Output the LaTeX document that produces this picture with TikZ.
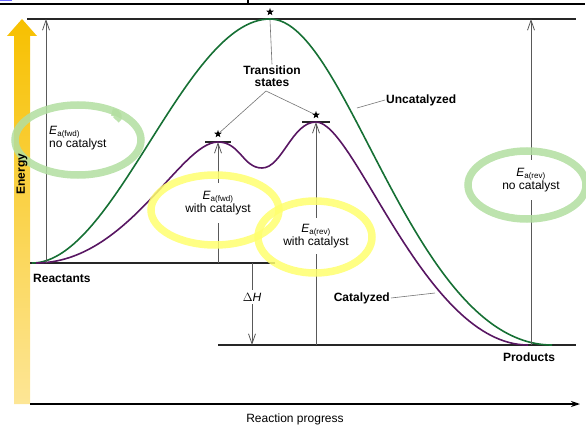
\documentclass[tikz,border=0pt]{standalone}
\usepackage{fontspec}
\setmainfont{Liberation Sans}
\usetikzlibrary{arrows.meta,shapes.geometric}
\definecolor{uncat}{RGB}{22,112,52}
\definecolor{cat}{RGB}{88,22,98}
\definecolor{hlgreen}{RGB}{178,222,160}
\definecolor{hlyellow}{RGB}{255,255,110}
\definecolor{energytop}{RGB}{247,192,0}
\definecolor{energybot}{RGB}{253,230,150}
\tikzset{
  lbl/.style={font=\fontsize{12}{13}\selectfont\bfseries, inner sep=1pt},
  ealbl/.style={font=\fontsize{12}{11.5}\selectfont, align=center, inner xsep=1pt},
  level/.style={draw=black!85, line width=1.1pt},
  ea/.style={draw=black!65, line width=0.8pt, -{Straight Barb[length=10pt,width=7pt]}},
  leader/.style={draw=black!55, line width=0.6pt},
  ts/.style={star, star points=5, star point ratio=2.4, fill=black, inner sep=0pt, minimum size=8pt},
  hilite/.style={line width=7.5pt, opacity=0.85},
}
\newcommand{\Ea}[1]{\textit{E}\textsubscript{a(#1)}}
\begin{document}
\begin{tikzpicture}[x=1pt,y=-1pt]
\useasboundingbox (0,0) rectangle (586,425);
% frame of the screenshot
\fill[blue!60] (0,0) rectangle (12,1.5);
\draw[line width=1.2pt] (0,4) -- (585,4);
\draw[line width=1.2pt] (248,0) -- (248,4);

% energy axis
\shade[top color=energytop, bottom color=energybot]
  (14,404) -- (14,36) -- (7,36) -- (22,19) -- (37,36) -- (30,36) -- (30,404) -- cycle;
\coordinate (axis0) at (30,404);
\coordinate (axis1) at (580,404);
\draw[line width=1.4pt, -{Stealth[length=9pt,width=6pt]}] (axis0) -- (axis1);
\node[font=\fontsize{12}{13}\selectfont] (progress) at (295,419) {Reaction progress};

% levels
\coordinate (topL) at (27,19);
\coordinate (topR) at (576,19);
\coordinate (reactL) at (30,263);
\coordinate (reactR) at (275,263);
\coordinate (prodL) at (218,345);
\coordinate (prodR) at (576,345);
\draw[level] (topL) -- (topR);
\draw[level] (reactL) -- (reactR);
\draw[level] (prodL) -- (prodR);
\coordinate (peakU) at (270,19);
\coordinate (peak1) at (218,142);
\coordinate (peak2) at (316,122);
\draw[level] (205,142) -- (231,142);
\draw[level] (302,122) -- (330,122);

% curves
\draw[uncat, line width=1.6pt] (32,263) .. controls (115,263) and (185,19) .. (peakU)
  .. controls (348,19) and (412,345) .. (552,345);
\draw[cat, line width=1.6pt] (36,263) .. controls (128,263) and (180,142) .. (peak1)
  .. controls (240,142) and (243,168) .. (262,168)
  .. controls (282,168) and (292,122) .. (peak2)
  .. controls (355,122) and (425,345) .. (528,345);

% transition states
\node[ts] (starU) at (270,12) {};
\node[ts] (star1) at (218,134) {};
\node[ts] (star2) at (316,115) {};
\node[lbl, align=center, font=\fontsize{12}{12}\selectfont\bfseries] (tsText) at (272,76) {Transition\\states};
\draw[leader] (peakU) ++(0,1) -- (tsText.north);
\coordinate (tsApex) at (266,91);
\draw[leader] (star1) -- (tsApex) -- (star2);

% curve labels
\node[lbl, anchor=west] (uncText) at (385,100) {Uncatalyzed};
\coordinate (uncPt) at (357,108);
\draw[leader] (uncText.west) -- (uncPt);
\node[lbl, anchor=east] (catText) at (391,298) {Catalyzed};
\coordinate (catPt) at (435,293);
\draw[leader] (catText.east) -- (catPt);
\node[lbl, anchor=west] (reactants) at (32,278) {Reactants};
\node[lbl] (products) at (529,357) {Products};

% activation energies
\coordinate (fwdU0) at (46,263);
\coordinate (fwdU1) at (46,19);
\draw[ea] (fwdU0) -- (fwdU1);
\node[ealbl, anchor=west, align=left] (eaFwdU) at (48,138) {\Ea{fwd}\\no catalyst};

\node[ealbl, inner ysep=8pt] (eaRevU) at (531,180) {\Ea{rev}\\no catalyst};
\coordinate (revU0) at (531,345);
\coordinate (revU1) at (531,19);
\draw[ea, -] (revU0) -- (eaRevU);
\draw[ea] (eaRevU) -- (revU1);

\node[ealbl, inner ysep=8pt] (eaFwdC) at (218,203) {\Ea{fwd}\\with catalyst};
\coordinate (fwdC0) at (218,263);
\draw[ea, -] (fwdC0) -- (eaFwdC);
\draw[ea] (eaFwdC) -- (peak1);

\node[ealbl, inner ysep=6pt] (eaRevC) at (316,236) {\Ea{rev}\\with catalyst};
\coordinate (revC0) at (316,345);
\draw[ea, -] (revC0) -- (eaRevC);
\draw[ea] (eaRevC) -- (peak2);

\node[ealbl, inner ysep=3pt] (dH) at (252,297) {$\Delta$\textit{H}};
\coordinate (dH0) at (252,263);
\coordinate (dH1) at (252,345);
\draw[ea, -] (dH0) -- (dH);
\draw[ea] (dH) -- (dH1);

% highlighter marks
\draw[hilite, hlgreen] (78,140) ellipse [x radius=63, y radius=35];
\draw[hilite, hlgreen] (112,112) .. controls (118,112) and (120,118) .. (116,120);
\draw[hilite, hlgreen] (527,185) ellipse [x radius=59, y radius=34];
\draw[hilite, hlyellow] (215,210) ellipse [x radius=64, y radius=35];
\draw[hilite, hlyellow] (315,237) ellipse [x radius=57, y radius=36];
\node[lbl, rotate=90] (energy) at (22,174) {Energy};
\end{tikzpicture}
\end{document}
